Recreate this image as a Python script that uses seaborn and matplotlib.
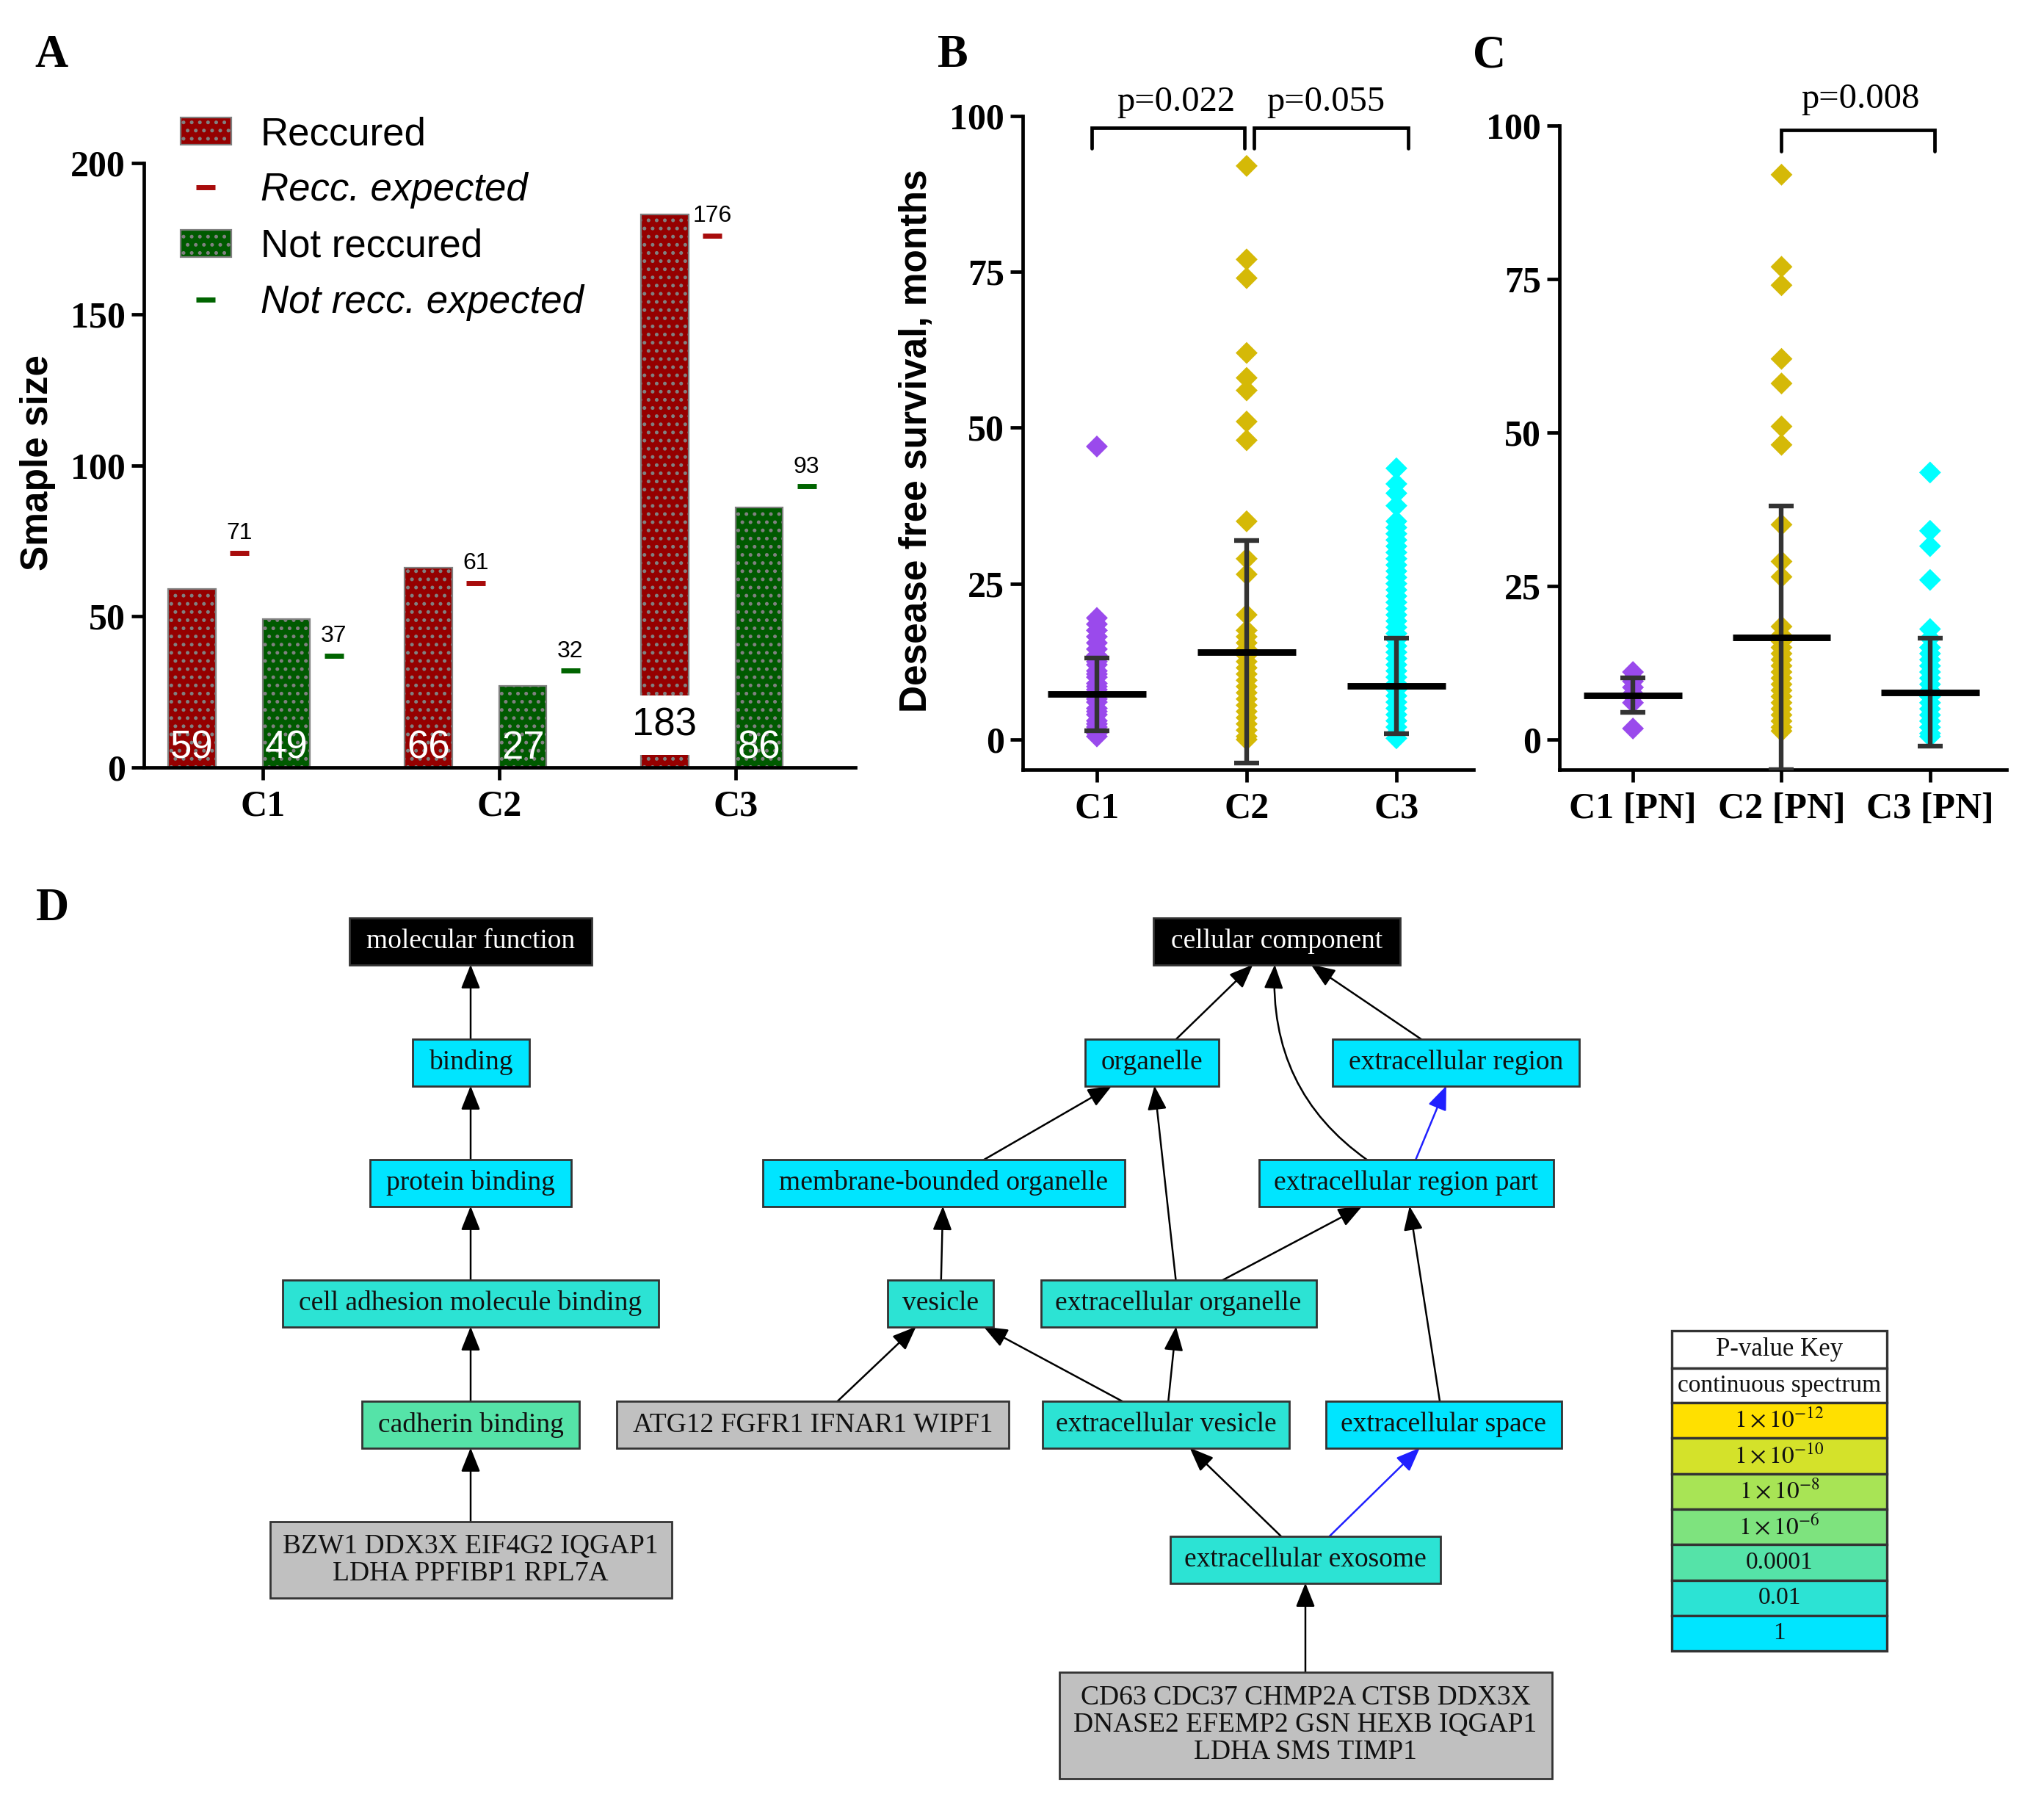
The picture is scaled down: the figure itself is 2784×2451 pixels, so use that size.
import numpy as np
import pandas as pd
import seaborn as sns
import matplotlib
matplotlib.use('Agg')
from matplotlib import pyplot as plt
from matplotlib.patches import Rectangle, FancyArrowPatch, Patch
from matplotlib.lines import Line2D

# ---- panel A : sample size per cluster ----
clusters = ['C1', 'C2', 'C3']
reccured = [59, 66, 183]
not_reccured = [49, 27, 86]
recc_expected = [71, 61, 176]
not_recc_expected = [37, 32, 93]

# ---- panel B : disease free survival, months (all patients) ----
dfs_c1 = [47, 19.5, 18.5, 17.5, 16.5, 15.5, 14.5, 13.5, 12.5, 12, 11, 10.5, 10, 9, 8.5,
          8, 7, 6.5, 6, 5, 4.5, 4, 3, 2.5, 2, 1, 0.5]
dfs_c2 = [92, 77, 74, 62, 58, 56, 51, 48, 35, 29, 26.5, 20, 17.5, 16.5, 15.5, 14.5, 13.5,
          12.5, 11.5, 10.5, 9.5, 8.5, 7.5, 6.5, 5.5, 4.5, 3.5, 2.5, 1.5, 0.5, 0]
dfs_c3 = [43.5, 41, 39.5, 37.5, 35, 34, 33, 32, 31, 30, 29, 28, 27, 26, 25, 24, 23, 22, 21,
          20, 19, 18, 17, 16, 15, 14, 13, 12, 11, 10, 9, 8, 7, 6, 5, 4, 3, 2, 1, 0.2]
dfs_mean = [7.25, 14.05, 8.6]
dfs_sd = [5.8, 17.85, 7.7]
dfs_pvals = [(0, 1, 'p=0.022'), (1, 2, 'p=0.055')]

# ---- panel C : PN patients ----
pn_groups = ['C1 [PN]', 'C2 [PN]', 'C3 [PN]']
pn_c1 = [11, 10, 9.5, 8.5, 7.5, 7, 6, 1.8]
pn_c2 = [92, 77, 74, 62, 58, 51, 48, 35, 29, 26.5, 18.4, 17, 16, 15, 14, 13, 12, 11, 10, 9,
         8, 7, 6, 5, 4, 3, 2, 1.4]
pn_c3 = [43.5, 34, 31.5, 26, 18, 16.5, 15, 14, 13, 12, 11, 10, 9, 8, 7, 6, 5, 4, 3, 2, 1, 0.5]
pn_mean = [7.2, 16.6, 7.7]
pn_sd = [2.8, 21.5, 8.8]
pn_pvals = [(1, 2, 'p=0.008')]

# ---- panel D : GO graph ----
go_terms = ['molecular function', 'binding', 'protein binding', 'cell adhesion molecule binding',
            'cadherin binding', 'cellular component', 'organelle', 'extracellular region',
            'membrane-bounded organelle', 'extracellular region part', 'vesicle',
            'extracellular organelle', 'extracellular vesicle', 'extracellular space',
            'extracellular exosome']
go_level = ['root', '1', '1', '0.01', '0.0001', 'root', '1', '1', '1', '1', '0.01', '0.01',
            '0.01', '1', '0.01']
gene_sets = ['BZW1 DDX3X EIF4G2 IQGAP1\nLDHA PPFIBP1 RPL7A',
             'ATG12 FGFR1 IFNAR1 WIPF1',
             'CD63 CDC37 CHMP2A CTSB DDX3X\nDNASE2 EFEMP2 GSN HEXB IQGAP1\nLDHA SMS TIMP1']
go_edges = [('binding', 'molecular function', 'k'),
            ('protein binding', 'binding', 'k'),
            ('cell adhesion molecule binding', 'protein binding', 'k'),
            ('cadherin binding', 'cell adhesion molecule binding', 'k'),
            ('gene0', 'cadherin binding', 'k'),
            ('organelle', 'cellular component', 'k'),
            ('extracellular region', 'cellular component', 'k'),
            ('extracellular region part', 'cellular component', 'k'),
            ('membrane-bounded organelle', 'organelle', 'k'),
            ('extracellular organelle', 'organelle', 'k'),
            ('extracellular region part', 'extracellular region', 'b'),
            ('vesicle', 'membrane-bounded organelle', 'k'),
            ('extracellular organelle', 'extracellular region part', 'k'),
            ('extracellular space', 'extracellular region part', 'k'),
            ('gene1', 'vesicle', 'k'),
            ('extracellular vesicle', 'vesicle', 'k'),
            ('extracellular vesicle', 'extracellular organelle', 'k'),
            ('extracellular exosome', 'extracellular vesicle', 'k'),
            ('extracellular exosome', 'extracellular space', 'b'),
            ('gene2', 'extracellular exosome', 'k')]
key_labels = ['P-value Key', 'continuous spectrum', r'$1\times10^{-12}$', r'$1\times10^{-10}$',
              r'$1\times10^{-8}$', r'$1\times10^{-6}$', '0.0001', '0.01', '1']
key_colors = ['white', 'white', '#FFE000', '#D4E22A', '#A8E455', '#7EE37E', '#55E3A8',
              '#2CE3D4', '#00E5FF']

# layout of the graph boxes (pixel centre x, centre y, width, height)
node_box = {
    'molecular function': (641, 1282, 330, 64),
    'binding': (641, 1447, 159, 64),
    'protein binding': (641, 1611, 274, 64),
    'cell adhesion molecule binding': (641, 1775, 512, 64),
    'cadherin binding': (641, 1940, 296, 64),
    'gene0': (641, 2124, 547, 104),
    'gene1': (1107, 1940, 534, 64),
    'membrane-bounded organelle': (1285, 1611, 493, 64),
    'vesicle': (1281, 1775, 144, 64),
    'organelle': (1569, 1447, 182, 64),
    'extracellular organelle': (1605, 1775, 375, 64),
    'extracellular vesicle': (1588, 1940, 336, 64),
    'cellular component': (1739, 1282, 336, 64),
    'extracellular region': (1983, 1447, 336, 64),
    'extracellular region part': (1915, 1611, 401, 64),
    'extracellular space': (1966, 1940, 321, 64),
    'extracellular exosome': (1778, 2124, 368, 64),
    'gene2': (1778, 2349, 671, 145),
}

FIG_W, FIG_H, DPI = 2784, 2451, 200
SERIF = ['Liberation Serif', 'DejaVu Serif']
SANS = ['Liberation Sans', 'DejaVu Sans']
RED, GREEN = '#950000', '#005a00'
RED_EXP, GREEN_EXP = '#a80c0c', '#006400'
PT_COLORS = ['#9A4AEC', '#D5B907', '#00FFFF']

sns.set_theme(style='ticks', rc={'axes.edgecolor': 'black', 'xtick.color': 'black',
                                  'ytick.color': 'black', 'text.color': 'black',
                                  'axes.labelcolor': 'black', 'axes.linewidth': 1.7})
plt.rcParams['font.family'] = SERIF
plt.rcParams['mathtext.fontset'] = 'stix'
plt.rcParams['hatch.linewidth'] = 1.0


def fx(px):
    return px / FIG_W


def fy(py):
    return 1 - py / FIG_H


def style_axis(ax):
    sns.despine(ax=ax)
    ax.tick_params(axis='both', length=6.1, width=1.7, pad=3, labelsize=18)
    ax.tick_params(axis='x', pad=5)
    for lbl in ax.get_xticklabels() + ax.get_yticklabels():
        lbl.set_fontweight('bold')
        lbl.set_family(SERIF)


fig = plt.figure(figsize=(FIG_W / DPI, FIG_H / DPI), dpi=DPI)

# ---------------- panel D (pixel coordinate axes covering the figure) ----------------
axd = fig.add_axes([0, 0, 1, 1], zorder=0)
axd.set_xlim(0, FIG_W)
axd.set_ylim(FIG_H, 0)
axd.axis('off')
axd.patch.set_visible(False)

level_color = dict(zip(['1', '0.01', '0.0001'], [key_colors[8], key_colors[7], key_colors[6]]))
labels_d = dict(zip(go_terms, go_terms))
colors_d = {t: ('black' if lv == 'root' else level_color[lv]) for t, lv in zip(go_terms, go_level)}
for i, g in enumerate(gene_sets):
    labels_d['gene%d' % i] = g
    colors_d['gene%d' % i] = '#C0C0C0'

rects = {}
for name, (cx, cy, w, h) in node_box.items():
    r = Rectangle((cx - w / 2, cy - h / 2), w, h, facecolor=colors_d[name], edgecolor='#333333',
                  lw=1.0, zorder=2)
    axd.add_patch(r)
    rects[name] = r
    axd.text(cx, cy, labels_d[name], ha='center', va='center', fontsize=13.5, family=SERIF,
             color='white' if colors_d[name] == 'black' else '#111111', linespacing=1.1, zorder=3)

for child, parent, col in go_edges:
    a, b = node_box[child], node_box[parent]
    rad = -0.35 if (child, parent) == ('extracellular region part', 'cellular component') else 0
    arr = FancyArrowPatch((a[0], a[1]), (b[0], b[1]), patchA=rects[child], patchB=rects[parent],
                          shrinkA=0, shrinkB=0, arrowstyle='-|>,head_length=10,head_width=4',
                          mutation_scale=1, lw=0.9, color='black' if col == 'k' else '#2020ff',
                          connectionstyle='arc3,rad=%s' % rad, zorder=1)
    axd.add_patch(arr)

# p-value key
key_x0, key_x1, key_top = 2277, 2570, 1812
key_heights = [51, 47] + [48.3] * 7
y = key_top
for lab, col, h in zip(key_labels, key_colors, key_heights):
    axd.add_patch(Rectangle((key_x0, y), key_x1 - key_x0, h, facecolor=col, edgecolor='#333333',
                            lw=1.2, zorder=2))
    axd.text((key_x0 + key_x1) / 2, y + h / 2, lab, ha='center', va='center', family=SERIF,
             fontsize=12.5 if lab == 'P-value Key' else 12, color='#111111', zorder=3)
    y += h

# ---------------- panel A ----------------
axa = fig.add_axes([fx(196), fy(1045), (1165 - 196) / FIG_W, (1045 - 222) / FIG_H])
x = np.arange(len(clusters))
axa.bar(x - 0.3, reccured, width=0.2, color=RED, edgecolor='#808080', hatch='...', lw=0.8, zorder=2)
axa.bar(x + 0.1, not_reccured, width=0.2, color=GREEN, edgecolor='#808080', hatch='...', lw=0.8,
        zorder=2)
axa.plot(x - 0.1, recc_expected, ls='none', marker='_', ms=9.5, mew=2.5, color=RED_EXP, zorder=3)
axa.plot(x + 0.3, not_recc_expected, ls='none', marker='_', ms=9.5, mew=2.5, color=GREEN_EXP,
         zorder=3)
for xi, v in zip(x - 0.1, recc_expected):
    axa.text(xi, v + 2.8, str(v), ha='center', va='bottom', family=SANS, fontsize=11.5)
for xi, v in zip(x + 0.3, not_recc_expected):
    axa.text(xi, v + 2.8, str(v), ha='center', va='bottom', family=SANS, fontsize=11.5)
for xi, v in zip(x - 0.3, reccured):
    if v > 150:
        axa.text(xi, 14, str(v), ha='center', va='center', family=SANS, fontsize=19, color='black',
                 zorder=4, bbox=dict(boxstyle='square,pad=0.3', fc='white', ec='none'))
    else:
        axa.text(xi, 3, str(v), ha='center', va='baseline', family=SANS, fontsize=19,
                 color='white', zorder=4)
for xi, v in zip(x + 0.1, not_reccured):
    axa.text(xi, 3, str(v), ha='center', va='baseline', family=SANS, fontsize=19, color='white',
             zorder=4)
axa.set_xlim(-0.503, 2.506)
axa.set_ylim(0, 200)
axa.set_yticks([0, 50, 100, 150, 200])
axa.set_xticks(x, clusters)
style_axis(axa)
fig.text(fx(52), fy(630), 'Smaple size', rotation=90, ha='center', va='center', family=SANS,
         fontsize=18.5, fontweight='bold')

handles = [Patch(facecolor=RED, edgecolor='#808080', hatch='...', lw=0.8),
           Line2D([], [], ls='none', marker='_', ms=9.5, mew=2.5, color=RED_EXP),
           Patch(facecolor=GREEN, edgecolor='#808080', hatch='...', lw=0.8),
           Line2D([], [], ls='none', marker='_', ms=9.5, mew=2.5, color=GREEN_EXP)]
leg = fig.legend(handles, ['Reccured', 'Recc. expected', 'Not reccured', 'Not recc. expected'],
                 loc='upper left', bbox_to_anchor=(fx(246), fy(158)), frameon=False, borderpad=0,
                 borderaxespad=0, handlelength=1.3, handleheight=0.7, handletextpad=0.76,
                 labelspacing=0.5, prop=dict(family=SANS, size=19))
leg.get_texts()[1].set_style('italic')
leg.get_texts()[3].set_style('italic')


# ---------------- panels B and C ----------------
def dfs_panel(ax, groups, values, means, sds, pvals, ybot, br_lo, br_hi, p_base, br_x):
    df = pd.DataFrame({'group': np.repeat(groups, [len(v) for v in values]),
                       'months': np.concatenate(values)})
    sns.stripplot(data=df, x='group', y='months', hue='group', order=groups,
                  palette=dict(zip(groups, PT_COLORS)), marker='D', size=7.6, jitter=False,
                  linewidth=0, legend=False, ax=ax, zorder=2)
    xs = np.arange(len(groups))
    ax.errorbar(xs, means, yerr=sds, fmt='none', ecolor='#333333', elinewidth=2.3, capsize=6.1,
                capthick=2.3, zorder=3)
    ax.hlines(means, xs - 0.33, xs + 0.33, color='black', lw=3.2, zorder=4)
    for (i, j, lab), (xa, xb) in zip(pvals, br_x):
        ax.plot([xa, xa, xb, xb], [br_lo, br_hi, br_hi, br_lo], color='black', lw=1.7,
                clip_on=False, solid_joinstyle='miter')
        ax.text((i + j) / 2 + 0.03, p_base, lab, ha='center', va='baseline', family=SERIF,
                fontsize=17.5)
    ax.set_xlim(-0.495, 2.515)
    ax.set_ylim(ybot, 100)
    ax.set_yticks([0, 25, 50, 75, 100])
    ax.set_xlabel('')
    ax.set_ylabel('')
    style_axis(ax)


axb = fig.add_axes([fx(1393), fy(1048), (2007 - 1393) / FIG_W, (1048 - 158) / FIG_H])
dfs_panel(axb, clusters, [dfs_c1, dfs_c2, dfs_c3], dfs_mean, dfs_sd, dfs_pvals, -4.83, 94.8, 98.1,
          100.8, [(-0.034, 0.985), (1.05, 2.08)])
fig.text(fx(1248), fy(600), 'Desease free survival, months', rotation=90, ha='center',
         va='center', family=SANS, fontsize=18.5, fontweight='bold')

axc = fig.add_axes([fx(2124), fy(1048), (2733 - 2124) / FIG_W, (1048 - 171) / FIG_H])
dfs_panel(axc, pn_groups, [pn_c1, pn_c2, pn_c3], pn_mean, pn_sd, pn_pvals, -4.9, 95.8, 99.3,
          102.9, [(1.0, 2.03)])

# panel letters
for lab, px, py in [('A', 70, 76), ('B', 1298, 76), ('C', 2029, 76), ('D', 71, 1238)]:
    fig.text(fx(px), fy(py), lab, ha='center', va='center', family=SERIF, fontsize=22.5,
             fontweight='bold')

fig.savefig('out.png', dpi=DPI, facecolor='white')
